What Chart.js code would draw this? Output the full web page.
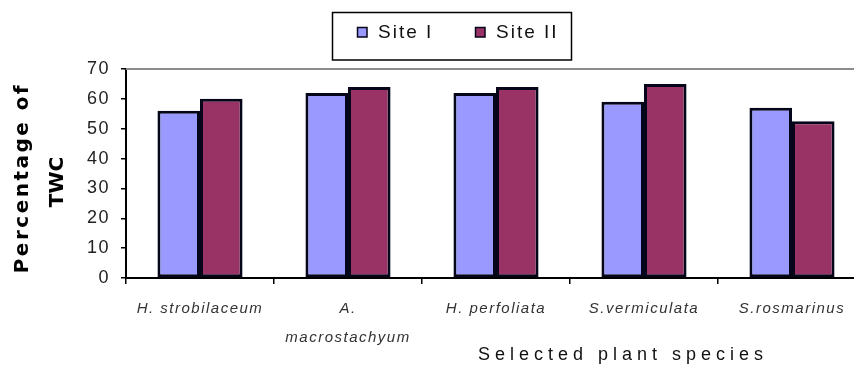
<!DOCTYPE html>
<html>
<head>
<meta charset="utf-8">
<script src="https://cdn.jsdelivr.net/npm/chart.js@4/dist/chart.umd.min.js"></script>
<style>
  html, body { margin: 0; padding: 0; background: #fff; overflow: hidden; }
  #wrap { width: 854px; height: 366px; overflow: hidden; position: relative; }
  canvas { display: block; }
</style>
</head>
<body>
<div id="wrap"><canvas id="c" width="870" height="366" style="width:870px;height:366px"></canvas></div>
<script>
// Total water content (%) of five plant species at two sites
const species = [
  'H. strobilaceum',
  ['A.', 'macrostachyum'],
  'H. perfoliata',
  'S.vermiculata',
  'S.rosmarinus'
];
const siteI  = [56, 62, 62, 59, 57];
const siteII = [60, 64, 64, 65, 52.5];
const seriesNames = ['Site I', 'Site II'];
const yTicks = [0, 10, 20, 30, 40, 50, 60, 70];

const colI = '#9999ff';
const colII = '#993366';
const edge = '#06061a';

// Frame line, boxed legend and axis titles
const decor = {
  id: 'decor',
  beforeDraw(chart) {
    chart.ctx.letterSpacing = '1.5px';
  },
  afterDraw(chart) {
    const { ctx, chartArea: a } = chart;
    ctx.save();
    // grey top edge of the plot frame
    ctx.strokeStyle = '#8c8c8c';
    ctx.lineWidth = 2;
    ctx.beginPath();
    ctx.moveTo(a.left, a.top);
    ctx.lineTo(a.right, a.top);
    ctx.stroke();

    // legend box
    ctx.strokeStyle = '#000';
    ctx.lineWidth = 1.5;
    ctx.strokeRect(332.5, 12.5, 239, 47.5);
    const items = [
      { x: 357, color: colI, text: seriesNames[0] },
      { x: 475, color: colII, text: seriesNames[1] }
    ];
    ctx.font = '19px "Liberation Sans", Arial, sans-serif';
    ctx.letterSpacing = '2px';
    ctx.textAlign = 'left';
    ctx.textBaseline = 'middle';
    items.forEach(it => {
      ctx.fillStyle = it.color;
      ctx.fillRect(it.x, 27, 10, 10);
      ctx.strokeStyle = edge;
      ctx.lineWidth = 1.5;
      ctx.strokeRect(it.x + 0.5, 27.5, 9.5, 9.5);
      ctx.fillStyle = '#111';
      ctx.fillText(it.text, it.x + 21, 33);
    });

    // y-axis title, two rotated lines
    ctx.fillStyle = '#000';
    ctx.font = 'bold 20px "DejaVu Sans", Verdana, sans-serif';
    ctx.textAlign = 'center';
    ctx.save();
    ctx.translate(23, 178);
    ctx.rotate(-Math.PI / 2);
    ctx.letterSpacing = '2.5px';
    ctx.fillText('Percentage of', 0, 0);
    ctx.restore();
    ctx.save();
    ctx.translate(58, 182);
    ctx.rotate(-Math.PI / 2);
    ctx.letterSpacing = '0px';
    ctx.fillText('TWC', 0, 0);
    ctx.restore();

    // x-axis title
    ctx.font = '18px "Liberation Sans", Arial, sans-serif';
    ctx.letterSpacing = '5px';
    ctx.fillStyle = '#111';
    ctx.textAlign = 'center';
    ctx.fillText('Selected plant species', 623, 355);

    ctx.restore();
    ctx.letterSpacing = '0px';
  }
};

new Chart(document.getElementById('c'), {
  type: 'bar',
  data: {
    labels: species,
    datasets: [
      {
        label: seriesNames[0],
        data: siteI,
        backgroundColor: colI,
        borderColor: edge,
        borderWidth: 3,
        borderSkipped: false
      },
      {
        label: seriesNames[1],
        data: siteII,
        backgroundColor: colII,
        borderColor: edge,
        borderWidth: 3,
        borderSkipped: false
      }
    ]
  },
  options: {
    responsive: false,
    animation: false,
    devicePixelRatio: 1,
    layout: { padding: { top: 69, right: 4, left: 0, bottom: 0 } },
    datasets: {
      bar: { categoryPercentage: 0.575, barPercentage: 1.0 }
    },
    plugins: {
      legend: { display: false },
      tooltip: { enabled: false },
      title: { display: false }
    },
    scales: {
      x: {
        afterFit(scale) { scale.height = 88; },
        grid: {
          display: true,
          offset: true,
          drawOnChartArea: false,
          drawTicks: true,
          tickLength: 6,
          color: '#000',
          lineWidth: 1.5
        },
        border: { display: true, color: '#000', width: 2 },
        ticks: {
          autoSkip: false,
          maxRotation: 0,
          minRotation: 0,
          padding: 10,
          color: '#333',
          font: {
            family: '"Liberation Sans", Arial, sans-serif',
            size: 15,
            style: 'italic',
            lineHeight: '29px'
          }
        }
      },
      y: {
        min: 0,
        max: 70,
        afterFit(scale) { scale.width = 126; },
        afterBuildTicks(scale) { scale.ticks = yTicks.map(v => ({ value: v })); },
        grid: {
          display: true,
          drawOnChartArea: false,
          drawTicks: true,
          tickLength: 5,
          color: '#000',
          lineWidth: 1.5
        },
        border: { display: true, color: '#000', width: 2 },
        ticks: {
          padding: 11,
          color: '#222',
          font: { family: '"Liberation Sans", Arial, sans-serif', size: 18 }
        }
      }
    }
  },
  plugins: [decor]
});
</script>
</body>
</html>
